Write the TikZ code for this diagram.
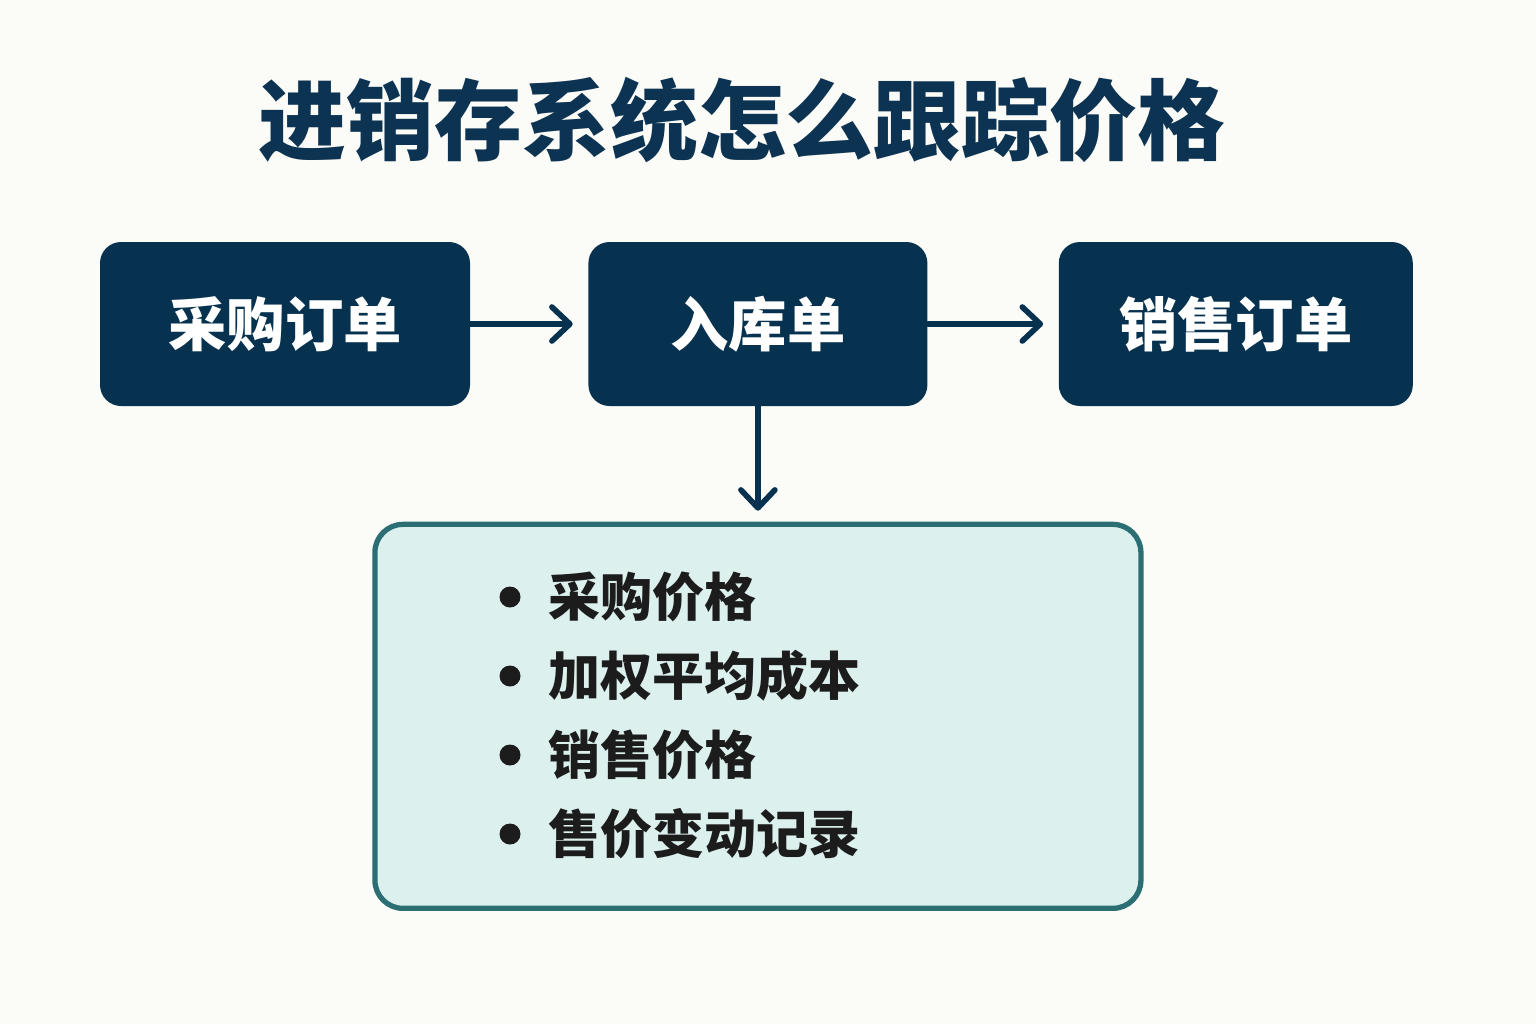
\documentclass[tikz,border=0pt]{standalone}
\usepackage{fontspec}
\setmainfont{Noto Sans CJK SC}
\usepackage{xcolor}
\definecolor{pagebg}{HTML}{FBFBF8}
\definecolor{flownavy}{HTML}{07324F}
\definecolor{titlenavy}{HTML}{0D3352}
\definecolor{panelfill}{HTML}{DCF1EE}
\definecolor{panelteal}{HTML}{2B6F75}
\definecolor{itemink}{HTML}{1C1C1C}
\usepackage{tikz}
\usetikzlibrary{
  arrows.meta,
  positioning,
}

\begin{document}
\begin{tikzpicture}[
  doc/.style={rectangle, fill=flownavy, rounded corners=6pt, minimum height=1.64cm, text=white, font=\fontsize{16.6}{19}\selectfont\bfseries, inner sep=0pt},
  panel/.style={rectangle, fill=panelfill, draw=panelteal, line width=1.5pt, rounded corners=8pt, minimum width=7.66cm, minimum height=3.84cm},
  item/.style={font=\fontsize{14.8}{17}\selectfont\bfseries, text=itemink, inner sep=0pt},
  arr/.style={-{Straight Barb[length=1.8mm, width=3.4mm, line cap=round, line join=round]}, line width=1.6pt, color=flownavy, line cap=round},
]
  % Page
  \fill[pagebg] (0,0) rectangle (15.36,-10.24);
  \useasboundingbox (0,0) rectangle (15.36,-10.24);

  % Title
  \node[font=\fontsize{25}{30}\selectfont\bfseries, text=titlenavy] (title) at (7.42,-1.20) {进销存系统怎么跟踪价格};

  % Document flow
  \node[doc, minimum width=3.70cm] (purchase) at (2.85,-3.24) {采购订单};
  \node[doc, minimum width=3.39cm, right=1.17cm of purchase] (stockin) {入库单};
  \node[doc, minimum width=3.54cm, right=1.30cm of stockin] (sales) {销售订单};

  % Tracked prices
  \node[panel, below=1.15cm of stockin] (prices) {};
  \node[item, anchor=west] (it1) at (5.48,-5.97) {采购价格};
  \node[item, below=0.79cm of it1.west, anchor=west] (it2) {加权平均成本};
  \node[item, below=0.79cm of it2.west, anchor=west] (it3) {销售价格};
  \node[item, below=0.79cm of it3.west, anchor=west] (it4) {售价变动记录};
  \foreach \i in {it1,it2,it3,it4}
    \fill[itemink] (\i.west) ++(-0.38,0) circle (0.105);

  % Arrows
  \draw[arr, shorten >=1.5mm] (purchase) -- (stockin);
  \draw[arr, shorten >=1.5mm] (stockin) -- (sales);
  \draw[arr, shorten >=1.1mm] (stockin) -- (prices);

\end{tikzpicture}
\end{document}
